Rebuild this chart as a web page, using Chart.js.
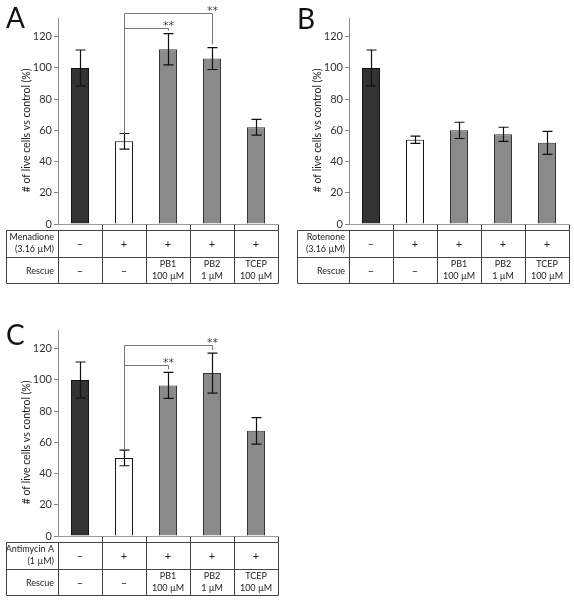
<!DOCTYPE html>
<html>
<head>
<meta charset="utf-8">
<script src="https://cdn.jsdelivr.net/npm/chart.js@4"></script>
<style>
  html, body { margin: 0; padding: 0; background: #fff; overflow: hidden; }
  .panel { position: absolute; }
</style>
</head>
<body>
<div class="panel" style="left:0;top:0;width:290px;height:288px"><canvas id="chartA"></canvas></div>
<div class="panel" style="left:291px;top:0;width:283px;height:288px"><canvas id="chartB"></canvas></div>
<div class="panel" style="left:0;top:312px;width:290px;height:288px"><canvas id="chartC"></canvas></div>
<script>
// groups (one bar per column of the table)
const groups = ['Control', 'Toxin', 'PB1', 'PB2', 'TCEP'];

// panel A - menadione
const meansA = [100, 53, 112, 106, 62];
const errA = [11.5, 5, 10, 7, 5];
// panel B - rotenone
const meansB = [100, 54, 60, 57.5, 52];
const errB = [11.5, 2.3, 5.2, 4.5, 7.4];
// panel C - antimycin A
const meansC = [100, 50, 96.5, 104.4, 67.4];
const errC = [11.5, 5, 8.3, 12.8, 8.5];

// significance brackets: from bar, to bar, height (y units)
const sigA = [{ from: 1, to: 2, at: 125.6 }, { from: 1, to: 3, at: 135.3 }];
const sigC = [{ from: 1, to: 2, at: 109.7 }, { from: 1, to: 3, at: 122.1 }];

// table rows
const rescueRow = ['–', '–', 'PB1\n100 µM', 'PB2\n1 µM', 'TCEP\n100 µM'];
const toxinRow = ['–', '+', '+', '+', '+'];
const yTicks = [0, 20, 40, 60, 80, 100, 120];

const FONT = 'Lato, "Open Sans", sans-serif';
const barFill = ['#333333', '#ffffff', '#8a8a8a', '#8a8a8a', '#8a8a8a'];
const barEdge = ['#111111', '#111111', '#333333', '#333333', '#333333'];

function makePanel(cfg) {
  return {
    id: 'panel' + cfg.letter,
    afterDatasetsDraw(chart) {
      const { ctx, chartArea: ca, scales: { x, y } } = chart;
      const n = groups.length;
      const catW = (ca.right - ca.left) / n;
      ctx.save();

      // error bars
      ctx.strokeStyle = '#111';
      ctx.lineWidth = 1.2;
      cfg.means.forEach((m, i) => {
        const cx = Math.round(x.getPixelForValue(i)) + 0.5;
        const yt = y.getPixelForValue(m + cfg.errs[i]);
        const yb = y.getPixelForValue(m - cfg.errs[i]);
        ctx.beginPath();
        ctx.moveTo(cx, yt); ctx.lineTo(cx, yb);
        ctx.moveTo(cx - 5, yt); ctx.lineTo(cx + 5, yt);
        ctx.moveTo(cx - 5, yb); ctx.lineTo(cx + 5, yb);
        ctx.stroke();
      });

      // significance brackets
      ctx.strokeStyle = '#777';
      ctx.lineWidth = 1;
      ctx.fillStyle = '#444';
      ctx.font = '11px "DejaVu Sans", sans-serif';
      ctx.textAlign = 'center';
      ctx.textBaseline = 'alphabetic';
      (cfg.sig || []).forEach(s => {
        const x1 = Math.round(x.getPixelForValue(s.from)) + 0.5;
        const x2 = Math.round(x.getPixelForValue(s.to)) + 0.5;
        const yy = Math.round(y.getPixelForValue(s.at)) + 0.5;
        const y1 = y.getPixelForValue(cfg.means[s.from] + cfg.errs[s.from]);
        const y2 = y.getPixelForValue(cfg.means[s.to] + cfg.errs[s.to] + 2);
        ctx.beginPath();
        ctx.moveTo(x1, y1); ctx.lineTo(x1, yy); ctx.lineTo(x2, yy); ctx.lineTo(x2, y2);
        ctx.stroke();
        ctx.fillText('**', x2, yy);
      });

      // baseline + table
      const base = Math.round(y.getPixelForValue(0)) + 0.5;
      const t0 = base + 6, t1 = base + 33, t2 = base + 59;
      const tl = ca.left - 52 + 0.5;
      ctx.strokeStyle = '#999';
      ctx.beginPath();
      ctx.moveTo(ca.left, base); ctx.lineTo(ca.right, base);
      ctx.stroke();
      ctx.strokeStyle = '#444';
      ctx.beginPath();
      for (let i = 0; i <= n; i++) {
        const bx = Math.round(ca.left + i * catW) + 0.5;
        ctx.moveTo(bx, i === 0 ? t0 : base); ctx.lineTo(bx, t2);
      }
      [t0, t1, t2].forEach(ty => { ctx.moveTo(tl, ty); ctx.lineTo(Math.round(ca.right) + 0.5, ty); });
      ctx.moveTo(tl, t0); ctx.lineTo(tl, t2);
      ctx.stroke();

      ctx.fillStyle = '#222';
      ctx.font = '9px ' + FONT;
      ctx.textBaseline = 'middle';
      ctx.textAlign = 'right';
      ctx.fillText(cfg.rowLabel[0], ca.left - 4, t0 + 7);
      ctx.fillText(cfg.rowLabel[1], ca.left - 4, t0 + 19);
      ctx.fillText('Rescue', ca.left - 4, (t1 + t2) / 2 + 1);
      ctx.textAlign = 'center';
      groups.forEach((g, i) => {
        const cx = x.getPixelForValue(i);
        ctx.font = '11px ' + FONT;
        ctx.fillText(toxinRow[i], cx, (t0 + t1) / 2);
        const lines = rescueRow[i].split('\n');
        if (lines.length === 1) {
          ctx.fillText(lines[0], cx, (t1 + t2) / 2 + 1);
        } else {
          ctx.font = '9px ' + FONT;
          ctx.fillText(lines[0], cx, t1 + 7);
          ctx.fillText(lines[1], cx, t1 + 19);
        }
      });

      // y title
      ctx.save();
      ctx.translate(27, y.getPixelForValue(60));
      ctx.rotate(-Math.PI / 2);
      ctx.font = '10.5px ' + FONT;
      ctx.fillStyle = '#222';
      ctx.fillText('# of live cells vs control (%)', 0, 0);
      ctx.restore();

      // panel letter
      ctx.font = '28px ' + FONT;
      ctx.fillStyle = '#111';
      ctx.textAlign = 'left';
      ctx.textBaseline = 'alphabetic';
      ctx.fillText(cfg.letter, 6, cfg.letterY);
      ctx.restore();
    }
  };
}

function makeChart(id, cfg) {
  new Chart(document.getElementById(id), {
    type: 'bar',
    data: {
      labels: groups,
      datasets: [{
        data: cfg.means,
        backgroundColor: barFill,
        borderColor: barEdge,
        borderWidth: 1,
        categoryPercentage: 1,
        barPercentage: 0.41
      }]
    },
    options: {
      responsive: true,
      maintainAspectRatio: false,
      animation: false,
      layout: { padding: { left: 0, right: cfg.padRight, top: 18, bottom: 64 } },
      plugins: { legend: { display: false }, tooltip: { enabled: false } },
      scales: {
        x: { display: false },
        y: {
          min: 0,
          max: 132,
          afterFit: s => { s.width = 58; },
          afterBuildTicks: s => { s.ticks = yTicks.map(v => ({ value: v })); },
          ticks: { color: '#333', font: { family: FONT, size: 11 }, padding: 2 },
          grid: { drawOnChartArea: false, tickLength: 4, color: '#888' },
          border: { color: '#888' }
        }
      }
    },
    plugins: [makePanel(cfg)]
  });
}

makeChart('chartA', { letter: 'A', letterY: 28, means: meansA, errs: errA, sig: sigA,
  rowLabel: ['Menadione', '(3.16 µM)'], padRight: 12 });
makeChart('chartB', { letter: 'B', letterY: 29, means: meansB, errs: errB, sig: [],
  rowLabel: ['Rotenone', '(3.16 µM)'], padRight: 5 });
makeChart('chartC', { letter: 'C', letterY: 33, means: meansC, errs: errC, sig: sigC,
  rowLabel: ['Antimycin A', '(1 µM)'], padRight: 12 });
</script>
</body>
</html>
